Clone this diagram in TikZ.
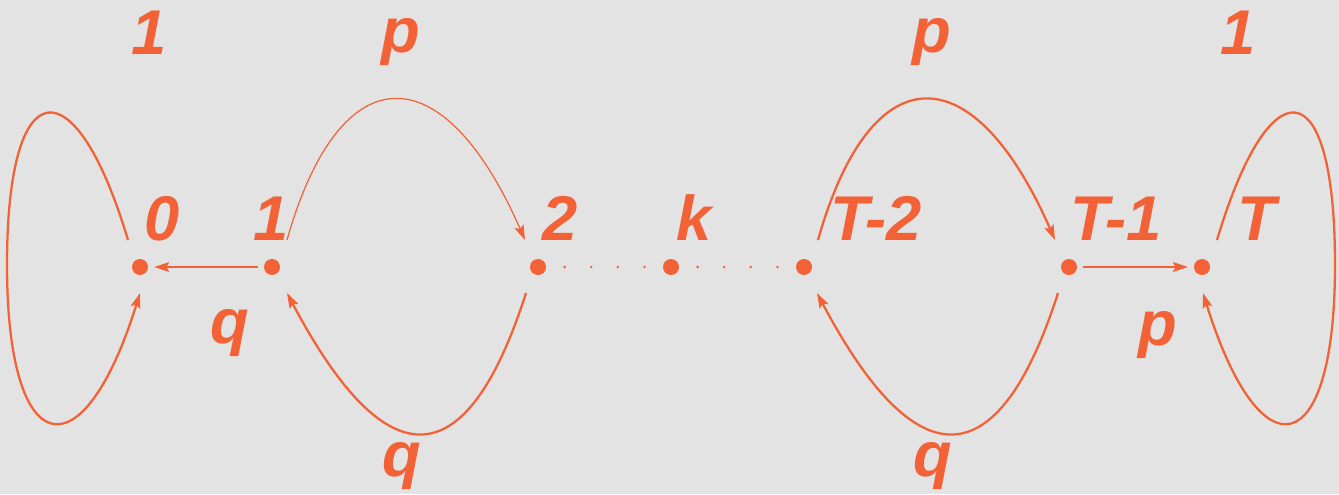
\documentclass[tikz,border=0pt]{standalone}
\usepackage{fontspec}
\newfontfamily\labelfont{Liberation Sans}
\usetikzlibrary{arrows.meta,calc}
\definecolor{orng}{HTML}{F26236}
\definecolor{bggray}{HTML}{E3E3E3}
\begin{document}
\begin{tikzpicture}[x=0.02cm, y=-0.02cm, line width=1.3pt, >={Stealth[length=8.5pt,width=5.5pt,inset=1.5pt]},
  vtx/.style={circle, fill=orng, inner sep=0pt, minimum size=0.32cm},
  link/.style={->, draw=orng, fill=none},
  tag/.style={anchor=base, text=orng, font=\labelfont\bfseries\itshape\fontsize{36}{40}\selectfont}]
  \fill[bggray] (0,0) rectangle (1339,494);
  \useasboundingbox (0,0) rectangle (1339,494);
  % 상태
  \node[vtx] (n0) at (140,267) {};
  \node[vtx] (n1) at (272,267) {};
  \node[vtx] (n2) at (538,267) {};
  \node[vtx] (nk) at (671,267) {};
  \node[vtx] (nT2) at (804,267) {};
  \node[vtx] (nT1) at (1069,267) {};
  \node[vtx] (nT) at (1202,267) {};
  \node[tag] (l0) at (162,240) {0};
  \node[tag] (l1) at (271,240) {1};
  \node[tag] (l2) at (560,240) {2};
  \node[tag] (lk) at (694,240) {k};
  \node[tag] (lT2) at (876,240) {T-2};
  \node[tag] (lT1) at (1116,240) {T-1};
  \node[tag] (lT) at (1257,240) {T};
  % 점선
  \foreach \i in {1,...,4} {
    \fill[orng] ($(n2)!\i/5!(nk)$) circle (1.4);
    \fill[orng] ($(nk)!\i/5!(nT2)$) circle (1.4);
  }
  % 흡수 상태의 고리
  \coordinate (w0) at (7,265);
  \coordinate (wT) at (1335,265);
  \draw[link] ([shift={(-12,-27)}]n0.center) .. controls +(-52,-174) and +(0,-199) .. (w0)
    .. controls +(0,199) and +(-57,183) .. ([shift={(0,26)}]n0.center);
  \draw[link] ([shift={(15,-27)}]nT.center) .. controls +(52,-174) and +(0,-199) .. (wT)
    .. controls +(0,199) and +(57,183) .. ([shift={(1,26)}]nT.center);
  \node[tag] (a0) at (149,54) {1};
  \node[tag] (aT) at (1238,54) {1};
  % 곧은 화살표
  \draw[link, shorten <=0.1cm, shorten >=0.1cm] (n1) -- (n0);
  \draw[link, shorten <=0.1cm, shorten >=0.1cm] (nT1) -- (nT);
  \node[tag] (q0) at (230,343) {q};
  \node[tag] (pT) at (1158,345) {p};
  % 위쪽 호
  \draw[link, line width=0.7pt] ([shift={(15,-27)}]n1.center) .. controls +(53,-187) and +(-82,-187) .. ([shift={(-13,-27)}]n2.center);
  \draw[link] ([shift={(14,-27)}]nT2.center) .. controls +(53,-187) and +(-82,-187) .. ([shift={(-14,-27)}]nT1.center);
  \node[tag] (p1) at (401,52) {p};
  \node[tag] (p2) at (932,52) {p};
  % 아래쪽 호
  \draw[link] ([shift={(-12,26)}]n2.center) .. controls +(-60,187) and +(99,187) .. ([shift={(15,26)}]n1.center);
  \draw[link] ([shift={(-11,26)}]nT1.center) .. controls +(-60,187) and +(99,187) .. ([shift={(13,26)}]nT2.center);
  \node[tag] (q1) at (402,476) {q};
  \node[tag] (q2) at (933,476) {q};
\end{tikzpicture}
\end{document}
